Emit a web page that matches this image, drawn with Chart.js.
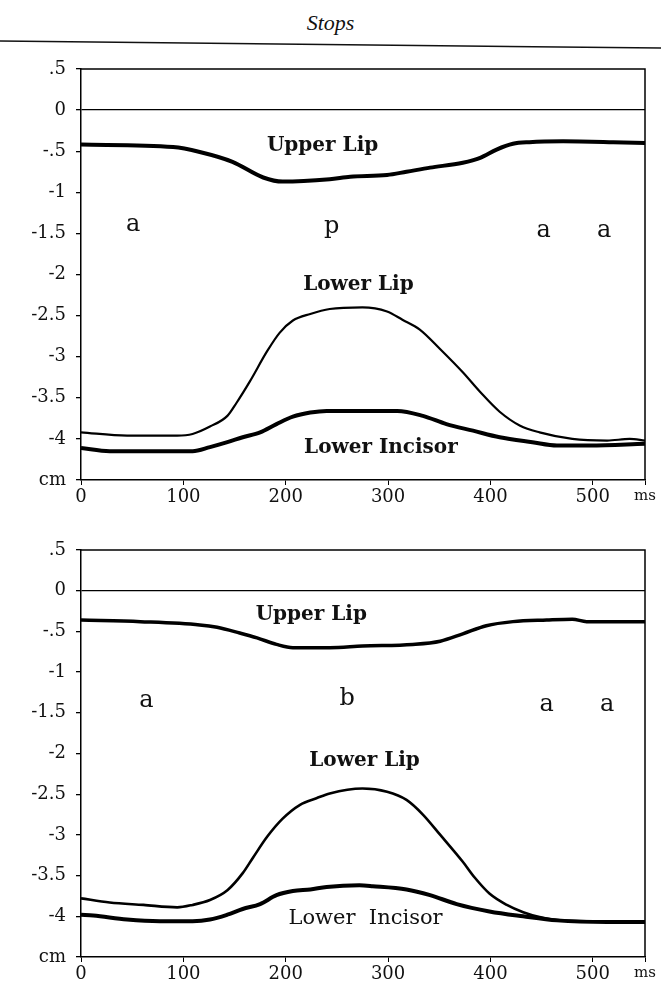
<!DOCTYPE html>
<html>
<head>
<meta charset="utf-8" />
<title>Stops</title>
<script src="https://cdn.jsdelivr.net/npm/chart.js@4/dist/chart.umd.min.js"></script>
<style>
  body { margin: 0; background: #fff; }
  #page { position: relative; width: 661px; height: 992px; overflow: hidden; }
  #title { position: absolute; left: 0; width: 661px; top: 10px; text-align: center;
           font: italic 22px "Liberation Serif", serif; color: #111; }
  #rule { position: absolute; left: 0; top: 0; }
  canvas { position: absolute; left: 0; }
</style>
</head>
<body>
<div id="page">
  <div id="title">Stops</div>
  <svg id="rule" width="661" height="60"><line x1="0" y1="41" x2="661" y2="48" stroke="#111" stroke-width="1.5"/></svg>
  <canvas id="top" width="661" height="510" style="top:0"></canvas>
  <canvas id="bot" width="661" height="482" style="top:510px"></canvas>
</div>
<script>
// time axis (ms) and tick labels
var xTicks = [0, 100, 200, 300, 400, 500];
var xEnd = 551;
var yMin = -4.5, yMax = 0.5;

// upper panel ("p")
var topUpperX = [0, 90, 116, 148, 178, 197, 243, 263, 299, 318, 341, 373, 390, 406, 422, 438, 471, 520, 551];
var topUpperY = [-0.42, -0.45, -0.51, -0.63, -0.82, -0.87, -0.84, -0.81, -0.79, -0.75, -0.70, -0.64, -0.58, -0.48, -0.41, -0.39, -0.38, -0.39, -0.40];
var topLipX = [0, 45, 94, 109, 126, 143, 152, 165, 182, 194, 207, 224, 243, 275, 299, 314, 331, 351, 373, 390, 409, 429, 448, 480, 514, 536, 551];
var topLipY = [-3.92, -3.96, -3.96, -3.94, -3.85, -3.72, -3.56, -3.30, -2.93, -2.71, -2.56, -2.48, -2.42, -2.40, -2.45, -2.55, -2.67, -2.91, -3.19, -3.43, -3.67, -3.84, -3.92, -4.00, -4.02, -4.00, -4.02];
var topIncX = [0, 28, 109, 126, 143, 158, 175, 191, 207, 224, 240, 272, 309, 334, 357, 383, 409, 441, 465, 497, 551];
var topIncY = [-4.11, -4.15, -4.15, -4.10, -4.04, -3.98, -3.92, -3.82, -3.73, -3.68, -3.66, -3.66, -3.66, -3.72, -3.82, -3.90, -3.98, -4.04, -4.08, -4.08, -4.06];

// lower panel ("b")
var botUpperX = [0, 58, 116, 133, 155, 172, 191, 207, 243, 275, 324, 351, 373, 396, 422, 455, 480, 494, 551];
var botUpperY = [-0.36, -0.38, -0.42, -0.45, -0.52, -0.58, -0.66, -0.70, -0.70, -0.68, -0.66, -0.62, -0.53, -0.43, -0.38, -0.36, -0.35, -0.38, -0.38];
var botLipX = [0, 28, 61, 94, 109, 126, 143, 158, 168, 182, 197, 214, 230, 243, 275, 299, 318, 334, 351, 373, 385, 399, 416, 432, 448, 468, 551];
var botLipY = [-3.78, -3.83, -3.86, -3.89, -3.86, -3.80, -3.68, -3.47, -3.28, -3.02, -2.80, -2.63, -2.55, -2.49, -2.43, -2.47, -2.57, -2.75, -3.00, -3.33, -3.53, -3.72, -3.86, -3.95, -4.01, -4.05, -4.07];
var botIncX = [0, 12, 45, 77, 109, 126, 143, 158, 175, 191, 207, 224, 240, 272, 285, 318, 341, 367, 399, 432, 465, 514, 551];
var botIncY = [-3.98, -3.99, -4.04, -4.06, -4.06, -4.04, -3.98, -3.91, -3.85, -3.74, -3.69, -3.67, -3.64, -3.62, -3.63, -3.67, -3.74, -3.85, -3.94, -4.00, -4.05, -4.07, -4.07];

// text notes: [text, ms, cm, font]
var bold = 'bold 20px "DejaVu Serif"';
var seg = '24px "DejaVu Serif"';
var topNotes = [
  ['Upper Lip', 236, -0.43, bold],
  ['a', 51, -1.40, seg], ['p', 245, -1.42, seg], ['a', 452, -1.47, seg], ['a', 511, -1.47, seg],
  ['Lower Lip', 271, -2.13, bold],
  ['Lower Incisor', 293, -4.11, bold]
];
var botNotes = [
  ['Upper Lip', 225, -0.30, bold],
  ['a', 64, -1.35, seg], ['b', 260, -1.33, seg], ['a', 455, -1.40, seg], ['a', 514, -1.40, seg],
  ['Lower Lip', 277, -2.09, bold],
  ['Lower  Incisor', 278, -4.03, '21px "DejaVu Serif"']
];

function pts(xs, ys) {
  return xs.map(function(x, i) { return {x: x, y: ys[i]}; });
}

function fmtY(v) {
  if (Math.abs(v - yMin) < 1e-6) return 'cm';
  if (v === 0) return '0';
  var s = String(Math.abs(v)).replace(/^0\./, '.');
  return (v < 0 ? '-' : '') + s;
}

var notesPlugin = {
  id: 'notes',
  afterDatasetsDraw: function(chart, args, opts) {
    var ctx = chart.ctx, a = chart.chartArea;
    var xs = chart.scales.x, ys = chart.scales.y;
    ctx.save();
    // top and right frame
    ctx.strokeStyle = '#000';
    ctx.lineWidth = 1.5;
    ctx.beginPath();
    ctx.moveTo(a.left, a.top);
    ctx.lineTo(a.right, a.top);
    ctx.lineTo(a.right, a.bottom);
    ctx.stroke();
    ctx.fillStyle = '#111';
    ctx.textAlign = 'center';
    ctx.textBaseline = 'middle';
    (opts.items || []).forEach(function(n) {
      ctx.font = n[3];
      ctx.fillText(n[0], xs.getPixelForValue(n[1]), ys.getPixelForValue(n[2]));
    });
    ctx.restore();
  }
};

function makePanel(id, series, notes, padTop, xHeight) {
  var tickFont = {family: '"DejaVu Serif"', size: 18};
  return new Chart(document.getElementById(id), {
    type: 'line',
    data: {
      datasets: series.map(function(s) {
        return {
          data: pts(s[0], s[1]),
          borderColor: '#000',
          borderWidth: s[2],
          pointRadius: 0,
          cubicInterpolationMode: 'monotone',
          fill: false
        };
      })
    },
    options: {
      responsive: false,
      animation: false,
      devicePixelRatio: 1,
      layout: {padding: {top: padTop, right: 16, left: 0, bottom: 0}},
      plugins: {legend: {display: false}, tooltip: {enabled: false}, notes: {items: notes}},
      scales: {
        x: {
          type: 'linear', min: 0, max: xEnd,
          afterBuildTicks: function(sc) {
            sc.ticks = xTicks.concat([xEnd]).map(function(v) { return {value: v}; });
          },
          afterFit: function(sc) { sc.height = xHeight; },
          ticks: {
            color: '#111', padding: 2, maxRotation: 0, autoSkip: false,
            font: function(c) { return c.tick && c.tick.value === xEnd ? {family: '"DejaVu Serif"', size: 15} : tickFont; },
            callback: function(v) { return v === xEnd ? 'ms' : String(v); }
          },
          grid: {drawOnChartArea: false, tickLength: 5, color: '#000', tickColor: '#000'},
          border: {color: '#000', width: 1.5}
        },
        y: {
          min: yMin, max: yMax,
          ticks: {stepSize: 0.5, color: '#111', padding: 10, font: tickFont, callback: fmtY},
          afterFit: function(sc) { sc.width = 81; },
          grid: {
            tickLength: 5, tickColor: '#000', lineWidth: 1.3,
            color: function(c) { return c.tick && c.tick.value === 0 ? '#000' : 'rgba(0,0,0,0)'; }
          },
          border: {color: '#000', width: 1.5}
        }
      }
    },
    plugins: [notesPlugin]
  });
}

makePanel('top', [
  [topUpperX, topUpperY, 4],
  [topLipX, topLipY, 2.2],
  [topIncX, topIncY, 4]
], topNotes, 69, 30);

makePanel('bot', [
  [botUpperX, botUpperY, 3.5],
  [botLipX, botLipY, 2.6],
  [botIncX, botIncY, 4]
], botNotes, 40, 35);
</script>
</body>
</html>
